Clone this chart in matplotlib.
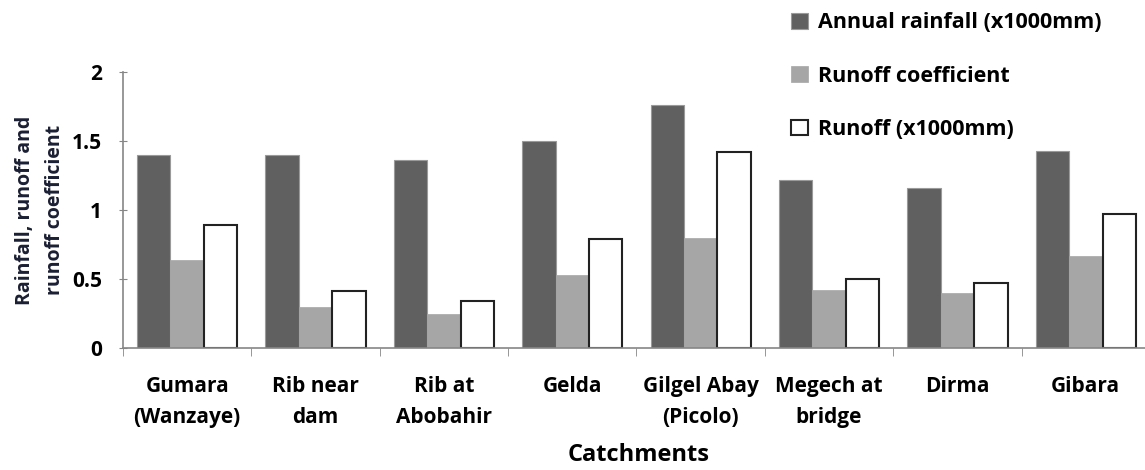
import matplotlib.pyplot as plt
import numpy as np

plt.rcParams['font.family'] = ['Open Sans', 'DejaVu Sans']

catchments = ['Gumara\n(Wanzaye)', 'Rib near\ndam', 'Rib at\nAbobahir', 'Gelda',
              'Gilgel Abay\n(Picolo)', 'Megech at\nbridge', 'Dirma', 'Gibara']
rainfall = [1.40, 1.40, 1.36, 1.50, 1.76, 1.22, 1.16, 1.43]
runoff_coef = [0.64, 0.30, 0.25, 0.53, 0.80, 0.42, 0.40, 0.67]
runoff = [0.89, 0.41, 0.34, 0.79, 1.42, 0.50, 0.47, 0.97]
yticks = [0, 0.5, 1, 1.5, 2]
ytick_labels = ['0', '0.5', '1', '1.5', '2']

fig = plt.figure(figsize=(11.45, 4.7), dpi=100)
ax = fig.add_axes([123 / 1145, 122 / 470, 1027 / 1145, 276 / 470])

x = np.arange(len(catchments))
w = 0.26
ax.bar(x - w, rainfall, w, color='#606060', edgecolor='#9a9a9a', linewidth=0.8,
       label='Annual rainfall (x1000mm)')
ax.bar(x, runoff_coef, w, color='#a6a6a6', edgecolor='#a6a6a6', linewidth=0.5,
       label='Runoff coefficient')
ax.bar(x + w, runoff, w, color='white', edgecolor='#222222', linewidth=1.5,
       label='Runoff (x1000mm)')

ax.set_xlim(-0.5, len(catchments) - 0.5)
ax.set_ylim(0, 2)
ax.set_yticks(yticks)
ax.set_yticklabels(ytick_labels, fontsize=15, fontweight='bold')

# category labels in the middle, tick marks on the group boundaries
ax.set_xticks(x)
ax.set_xticklabels(catchments, fontsize=15, fontweight='bold', linespacing=1.65)
ax.tick_params(axis='x', length=0, pad=20)
ax.set_xticks(np.arange(-0.5, len(catchments)), minor=True)
ax.tick_params(axis='x', which='minor', length=6, color='#868686', direction='out')
ax.tick_params(axis='y', length=6, color='#868686', direction='inout', pad=12)

for s in ['top', 'right']:
    ax.spines[s].set_visible(False)
for s in ['left', 'bottom']:
    ax.spines[s].set_color('#868686')
    ax.spines[s].set_linewidth(1.2)

ax.set_ylabel('Rainfall, runoff and\nrunoff coefficient', fontsize=14,
              fontweight='bold', color='#1b1f33', linespacing=1.65, labelpad=5)
fig.text(639 / 1145, 1 - 455 / 470, 'Catchments', fontsize=17, fontweight='bold',
         ha='center', va='center')

ax.legend(loc='upper left', bbox_to_anchor=(772 / 1145, 1.015), bbox_transform=fig.transFigure,
          frameon=False, prop={'size': 15.5, 'weight': 'bold'}, labelspacing=1.5,
          handlelength=0.75, handleheight=0.75, handletextpad=0.5)

fig.savefig('out.png', dpi=100)
